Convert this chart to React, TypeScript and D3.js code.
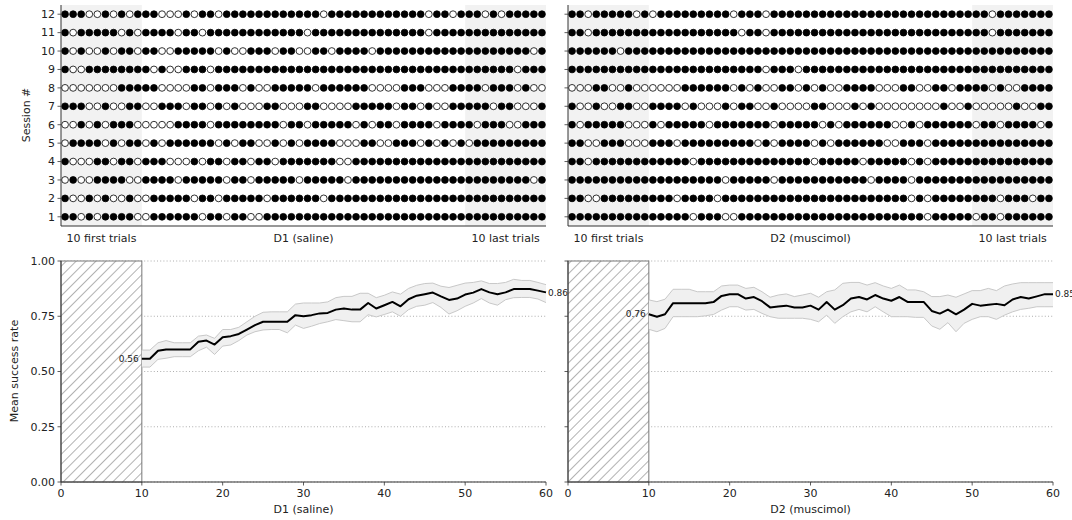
import React from "react";
import * as d3 from "d3";

// ---- data: each string = one session (trial 0..59), 1 = success (filled), 0 = failure (empty)
// index 0 = session 1
const d1Sessions: string[] = [
  "110101111001111" + "110110110011111" + "111111111111111" + "111111111111111", // 1
  "100101001001111" + "101101111101111" + "110111111111111" + "111111111111111", // 2
  "010011110011110" + "111110110111110" + "111110111111111" + "111111111111101", // 3
  "100011011011100" + "010110110110111" + "111100111111111" + "111111111111111", // 4
  "011110101101011" + "111101011001010" + "111100011001110" + "101010111111111", // 5
  "001010111000001" + "111011111111011" + "011111010110111" + "101111011100111", // 6
  "111001001100111" + "011010100011000" + "110000111110110" + "100111110110001", // 7
  "000000011111000" + "011011101001111" + "101111110000111" + "000111101110100", // 8
  "100111111110100" + "111011111111111" + "111111111111111" + "111111111110111", // 9
  "101001011011001" + "111101001110110" + "011011110111111" + "111111111111101", // 10
  "101111101011110" + "110111111111111" + "011111111111111" + "011111111111111", // 11
  "111001010111000" + "101101111111111" + "110111111111111" + "011011101011111", // 12
];

const d2Sessions: string[] = [
  "1111111111" + "1111101110" + "0111111111" + "1111111111" + "1111011111" + "0110111111", // 1
  "1100111111" + "1110111101" + "1111111111" + "1111111111" + "1101011111" + "1110111011", // 2
  "1111111111" + "1111111110" + "1111101111" + "1111111011" + "1101111111" + "1111111111", // 3
  "1101111111" + "1111101111" + "1111111111" + "0111110111" + "1101011111" + "1111111111", // 4
  "1100111000" + "1110111111" + "1110101111" + "0101111110" + "0111011111" + "1111111111", // 5
  "1011111000" + "1011111011" + "1111101111" + "1010111111" + "0010111111" + "0110111101", // 6
  "1001001100" + "1111010001" + "0110010000" + "1100010100" + "0000001001" + "0000010011", // 7
  "0001100100" + "0000111111" + "0101001101" + "0100111100" + "0110011011" + "1101001111", // 8
  "1111111111" + "1111111111" + "1111011101" + "1111111111" + "1111111111" + "1111111111", // 9
  "1111110111" + "1111111111" + "1111111111" + "1111111111" + "1111111111" + "1111111111", // 10
  "1101111111" + "1111111111" + "1011011111" + "1111111111" + "1111111111" + "1101111111", // 11
  "1101111101" + "0111111111" + "0111011111" + "1111111111" + "1111111111" + "1101111111", // 12
];

// mean success rate curves, trials 10..60
const trialsX: number[] = d3.range(10, 61);
const d1Mean: number[] = [
  0.558, 0.558, 0.594, 0.6, 0.6, 0.6, 0.6, 0.635, 0.64, 0.622, 0.655, 0.66, 0.67, 0.69, 0.71, 0.725,
  0.725, 0.725, 0.725, 0.755, 0.75, 0.755, 0.763, 0.765, 0.78, 0.785, 0.78, 0.78, 0.81, 0.785, 0.8,
  0.815, 0.795, 0.827, 0.843, 0.85, 0.857, 0.84, 0.824, 0.83, 0.848, 0.857, 0.873, 0.858, 0.85, 0.858,
  0.873, 0.873, 0.873, 0.866, 0.858,
];
const d1Upper: number[] = [
  0.597, 0.597, 0.63, 0.64, 0.63, 0.63, 0.63, 0.66, 0.665, 0.65, 0.69, 0.69, 0.7, 0.725, 0.75, 0.768,
  0.77, 0.77, 0.77, 0.805, 0.81, 0.81, 0.81, 0.815, 0.834, 0.84, 0.84, 0.854, 0.854, 0.834, 0.845,
  0.86, 0.85, 0.876, 0.89, 0.898, 0.9, 0.886, 0.88, 0.89, 0.9, 0.903, 0.91, 0.898, 0.898, 0.903,
  0.917, 0.912, 0.912, 0.903, 0.893,
];
const d1Lower: number[] = [
  0.52, 0.52, 0.555, 0.56, 0.567, 0.567, 0.567, 0.594, 0.61, 0.577, 0.615, 0.62, 0.64, 0.665, 0.68,
  0.688, 0.69, 0.69, 0.675, 0.71, 0.695, 0.705, 0.717, 0.725, 0.735, 0.73, 0.725, 0.725, 0.757, 0.747,
  0.758, 0.77, 0.75, 0.78, 0.795, 0.8, 0.812, 0.79, 0.76, 0.775, 0.795, 0.81, 0.83, 0.81, 0.8, 0.825,
  0.834, 0.835, 0.835, 0.828, 0.812,
];
const d2Mean: number[] = [
  0.759, 0.748, 0.759, 0.809, 0.809, 0.809, 0.809, 0.809, 0.814, 0.842, 0.85, 0.85, 0.83, 0.837, 0.818,
  0.79, 0.794, 0.798, 0.79, 0.79, 0.798, 0.78, 0.814, 0.78, 0.8, 0.83, 0.837, 0.826, 0.846, 0.83, 0.82,
  0.837, 0.815, 0.815, 0.815, 0.774, 0.762, 0.78, 0.759, 0.78, 0.806, 0.798, 0.802, 0.806, 0.8, 0.826,
  0.837, 0.83, 0.84, 0.85, 0.85,
];
const d2Upper: number[] = [
  0.824, 0.816, 0.827, 0.872, 0.872, 0.872, 0.861, 0.861, 0.861, 0.887, 0.891, 0.891, 0.876, 0.881,
  0.861, 0.836, 0.846, 0.851, 0.839, 0.846, 0.854, 0.836, 0.861, 0.869, 0.899, 0.903, 0.903, 0.891,
  0.902, 0.887, 0.876, 0.891, 0.869, 0.869, 0.861, 0.839, 0.839, 0.846, 0.836, 0.851, 0.866, 0.866,
  0.876, 0.866, 0.887, 0.896, 0.902, 0.902, 0.902, 0.902, 0.902,
];
const d2Lower: number[] = [
  0.691, 0.68, 0.695, 0.748, 0.748, 0.748, 0.748, 0.752, 0.758, 0.778, 0.793, 0.793, 0.778, 0.781,
  0.763, 0.748, 0.741, 0.741, 0.741, 0.741, 0.736, 0.725, 0.755, 0.718, 0.748, 0.77, 0.781, 0.77,
  0.793, 0.77, 0.748, 0.748, 0.748, 0.745, 0.745, 0.706, 0.691, 0.721, 0.68, 0.718, 0.736, 0.748,
  0.748, 0.736, 0.755, 0.77, 0.781, 0.786, 0.793, 0.793, 0.793,
];

const sessionTicks: number[] = d3.range(1, 13);
const rateTicks: number[] = [0, 0.25, 0.5, 0.75, 1.0];
const trialTicks: number[] = [0, 10, 20, 30, 40, 50, 60];

const FONT = "DejaVu Sans, sans-serif";

type PanelProps = {
  x0: number;
  x1: number;
  sessions: string[];
  topLabel: string;
  mean: number[];
  upper: number[];
  lower: number[];
  showYLabels: boolean;
  startLabel: string;
  endLabel: string;
  hatchId: string;
};

function Panel(p: PanelProps) {
  const topY0 = 5,
    topY1 = 226;
  const botY0 = 261,
    botY1 = 482;
  const xDots = d3.scaleLinear().domain([-0.5, 59.5]).range([p.x0, p.x1]);
  const yDots = d3.scaleLinear().domain([0.5, 12.5]).range([topY1, topY0]);
  const xT = d3.scaleLinear().domain([0, 60]).range([p.x0, p.x1]);
  const yR = d3.scaleLinear().domain([0, 1]).range([botY1, botY0]);

  const line = d3
    .line<number>()
    .x((_, i) => xT(trialsX[i]))
    .y((d) => yR(d));
  const area = d3
    .area<number>()
    .x((_, i) => xT(trialsX[i]))
    .y0((_, i) => yR(p.lower[i]))
    .y1((d) => yR(d));

  const spine = "#333";
  const tickCol = "#333";
  const lastIdx = p.mean.length - 1;

  return (
    <g>
      {/* ---------- top: trial raster ---------- */}
      <rect x={xDots(-0.5)} y={topY0} width={xDots(9.5) - xDots(-0.5)} height={topY1 - topY0} fill="#f2f2f2" />
      <rect x={xDots(49.5)} y={topY0} width={xDots(59.5) - xDots(49.5)} height={topY1 - topY0} fill="#f2f2f2" />
      {p.sessions.map((row, si) =>
        row.split("").map((c, ti) => (
          <circle
            key={`${si}-${ti}`}
            cx={xDots(ti)}
            cy={yDots(si + 1)}
            r={3.4}
            fill={c === "1" ? "#000" : "#fff"}
            stroke="#000"
            strokeWidth={0.8}
          />
        ))
      )}
      <line x1={p.x0} x2={p.x0} y1={topY0} y2={topY1} stroke={spine} strokeWidth={1} />
      <line x1={p.x0} x2={p.x1} y1={topY1} y2={topY1} stroke={spine} strokeWidth={1.2} />
      {sessionTicks.map((t) => (
        <g key={t}>
          <line x1={p.x0 - 3.5} x2={p.x0} y1={yDots(t)} y2={yDots(t)} stroke={tickCol} strokeWidth={0.8} />
          {p.showYLabels && (
            <text x={p.x0 - 6} y={yDots(t)} dy="0.35em" textAnchor="end" fontSize={11} fontFamily={FONT} fill="#222">
              {t}
            </text>
          )}
        </g>
      ))}
      {[
        { v: 4.5, s: "10 first trials" },
        { v: 29.5, s: p.topLabel },
        { v: 54.5, s: "10 last trials" },
      ].map((d) => (
        <text key={d.s} x={xDots(d.v)} y={242} textAnchor="middle" fontSize={11} fontFamily={FONT} fill="#222">
          {d.s}
        </text>
      ))}

      {/* ---------- bottom: mean success rate ---------- */}
      {rateTicks.map((t) => (
        <line key={t} x1={p.x0} x2={p.x1} y1={yR(t)} y2={yR(t)} stroke="#999" strokeWidth={0.8} strokeDasharray="1,2.2" />
      ))}
      <rect
        x={xT(0)}
        y={yR(1)}
        width={xT(10) - xT(0)}
        height={yR(0) - yR(1)}
        fill={`url(#${p.hatchId})`}
        stroke="#777"
        strokeWidth={1}
      />
      <path d={area(p.upper) || ""} fill="#f0f0f0" />
      <path d={line(p.upper) || ""} fill="none" stroke="#c8c8c8" strokeWidth={1} />
      <path d={line(p.lower) || ""} fill="none" stroke="#c8c8c8" strokeWidth={1} />
      <path d={line(p.mean) || ""} fill="none" stroke="#000" strokeWidth={2} strokeLinejoin="round" />
      <text x={xT(10) - 3} y={yR(p.mean[0])} dy="0.35em" textAnchor="end" fontSize={9} fontFamily={FONT} fill="#222">
        {p.startLabel}
      </text>
      <text x={xT(60) + 2} y={yR(p.mean[lastIdx])} dy="0.35em" textAnchor="start" fontSize={9} fontFamily={FONT} fill="#222">
        {p.endLabel}
      </text>

      <line x1={p.x0} x2={p.x0} y1={botY0} y2={botY1} stroke={spine} strokeWidth={1} />
      <line x1={p.x0} x2={p.x1} y1={botY1} y2={botY1} stroke={spine} strokeWidth={1.2} />
      {rateTicks.map((t) => (
        <g key={t}>
          <line x1={p.x0 - 3.5} x2={p.x0} y1={yR(t)} y2={yR(t)} stroke={tickCol} strokeWidth={0.8} />
          {p.showYLabels && (
            <text x={p.x0 - 6} y={yR(t)} dy="0.35em" textAnchor="end" fontSize={11} fontFamily={FONT} fill="#222">
              {t.toFixed(2)}
            </text>
          )}
        </g>
      ))}
      {trialTicks.map((t) => (
        <g key={t}>
          <line x1={xT(t)} x2={xT(t)} y1={botY1} y2={botY1 + 3.5} stroke={tickCol} strokeWidth={0.8} />
          <text x={xT(t)} y={botY1 + 15} textAnchor="middle" fontSize={11} fontFamily={FONT} fill="#222">
            {t}
          </text>
        </g>
      ))}
      <text x={(p.x0 + p.x1) / 2} y={513} textAnchor="middle" fontSize={11} fontFamily={FONT} fill="#222">
        {p.topLabel}
      </text>
    </g>
  );
}

export default function App() {
  return (
    <svg
      width={1072}
      height={520}
      style={{ position: "absolute", left: 0, top: 0, background: "#fff" }}
      xmlns="http://www.w3.org/2000/svg"
    >
      <defs>
        {["hatchL", "hatchR"].map((id) => (
          <pattern key={id} id={id} patternUnits="userSpaceOnUse" width={7} height={7} patternTransform="rotate(45)">
            <rect width={7} height={7} fill="#fff" />
            <line x1={0} y1={0} x2={0} y2={7} stroke="#555" strokeWidth={0.9} />
          </pattern>
        ))}
      </defs>
      <rect width={1072} height={520} fill="#fff" />
      <Panel
        x0={61}
        x1={546}
        sessions={d1Sessions}
        topLabel="D1 (saline)"
        mean={d1Mean}
        upper={d1Upper}
        lower={d1Lower}
        showYLabels={true}
        startLabel="0.56"
        endLabel="0.86"
        hatchId="hatchL"
      />
      <Panel
        x0={568}
        x1={1053}
        sessions={d2Sessions}
        topLabel="D2 (muscimol)"
        mean={d2Mean}
        upper={d2Upper}
        lower={d2Lower}
        showYLabels={false}
        startLabel="0.76"
        endLabel="0.85"
        hatchId="hatchR"
      />
      <text transform="translate(30,115) rotate(-90)" textAnchor="middle" fontSize={11} fontFamily={FONT} fill="#222">
        Session #
      </text>
      <text transform="translate(18,371) rotate(-90)" textAnchor="middle" fontSize={11} fontFamily={FONT} fill="#222">
        Mean success rate
      </text>
    </svg>
  );
}
